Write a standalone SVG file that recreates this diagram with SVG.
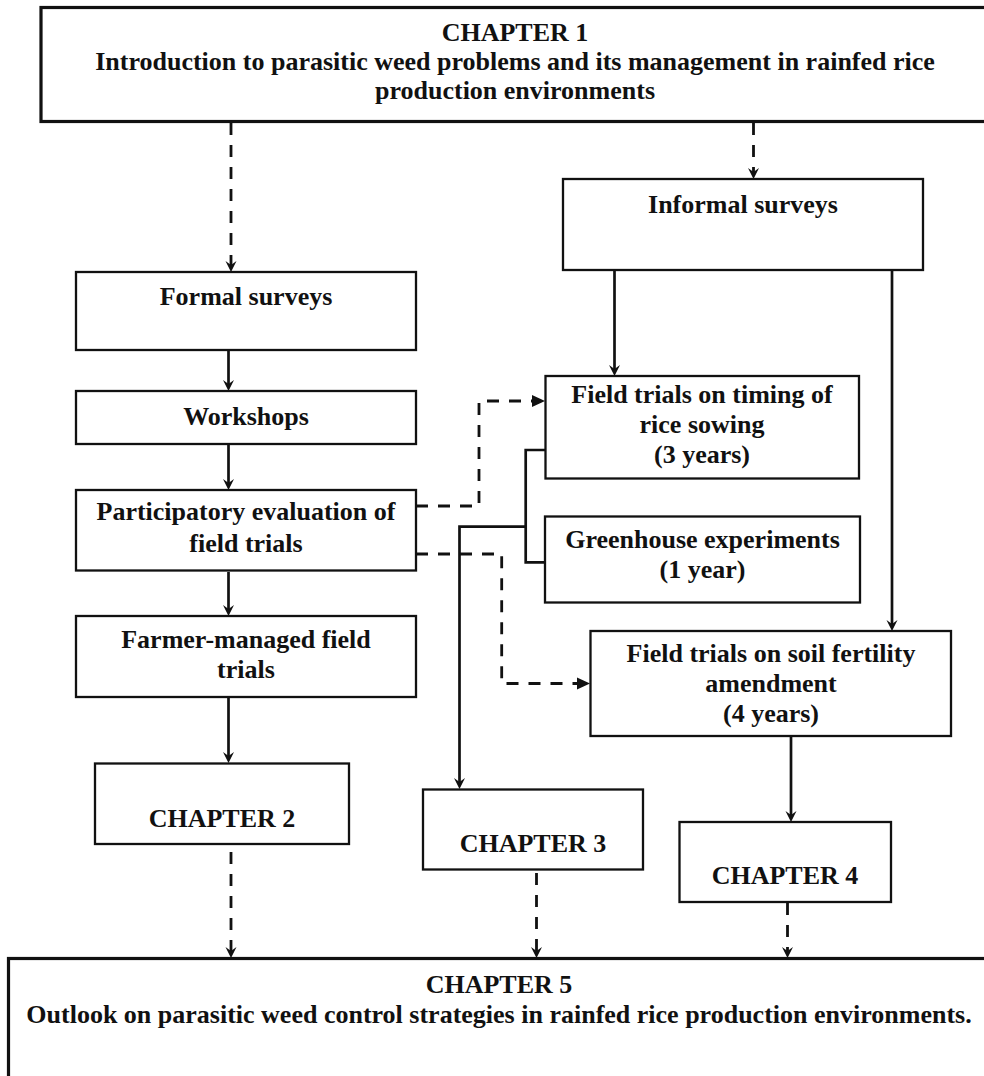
<svg xmlns="http://www.w3.org/2000/svg" width="984" height="1076" viewBox="0 0 984 1076">
<defs>
<style>
.box{fill:#fff;stroke:#111;stroke-width:2.3}
.big{fill:#fff;stroke:#111;stroke-width:3.2}
.t{font-family:"Liberation Serif","Times New Roman",serif;font-weight:bold;font-size:26px;fill:#111;text-anchor:middle}
.solid{fill:none;stroke:#111;stroke-width:2.7}
.dash{fill:none;stroke:#111;stroke-width:2.8;stroke-dasharray:12 10}
</style>
<marker id="barb" markerUnits="userSpaceOnUse" markerWidth="20" markerHeight="20" viewBox="-10 -10 20 20" refX="0" refY="0" orient="auto" overflow="visible">
<path d="M4,0 L-7,-5.5 L-3,0 L-7,5.5 Z" fill="#111"/>
</marker>
<marker id="tri" markerUnits="userSpaceOnUse" markerWidth="20" markerHeight="20" viewBox="-10 -10 20 20" refX="0" refY="0" orient="auto" overflow="visible">
<path d="M4,0 L-9,-6 L-9,6 Z" fill="#111"/>
</marker>
</defs>
<rect width="984" height="1076" fill="#fff"/>

<g id="connectors">
<path class="dash" d="M231,123 V268" marker-end="url(#barb)"/>
<path class="dash" d="M753.5,123 V175" marker-end="url(#barb)"/>
<path class="solid" d="M228.5,351 V387" marker-end="url(#barb)"/>
<path class="solid" d="M228.5,445 V486" marker-end="url(#barb)"/>
<path class="solid" d="M228.5,572 V612" marker-end="url(#barb)"/>
<path class="solid" d="M228.5,698 V759" marker-end="url(#barb)"/>
<path class="solid" d="M614.5,271 V372" marker-end="url(#barb)"/>
<path class="solid" d="M892,271 V627" marker-end="url(#barb)"/>
<path class="solid" d="M791,737 V818" marker-end="url(#barb)"/>
<path class="solid" d="M545.5,450 H525.7 V562.3 H545"/>
<path class="solid" d="M525.7,526.7 H459.5 V785" marker-end="url(#barb)"/>
<path class="dash" d="M416,506 H479 V401 H541" marker-end="url(#tri)"/>
<path class="dash" d="M416,554 H501.7 V683.5 H586" marker-end="url(#tri)"/>
<path class="dash" d="M231,852 V954" marker-end="url(#barb)"/>
<path class="dash" d="M536.5,873 V954" marker-end="url(#barb)"/>
<path class="dash" d="M787.5,903 V954" marker-end="url(#barb)"/>
</g>

<g id="chapter1">
<rect class="big" x="41" y="7.5" width="948" height="114"/>
<text class="t" x="515" y="41">CHAPTER 1</text>
<text class="t" x="515" y="70">Introduction to parasitic weed problems and its management in rainfed rice</text>
<text class="t" x="515" y="99">production environments</text>
</g>

<g id="formal-surveys">
<rect class="box" x="76" y="272" width="340" height="78"/>
<text class="t" x="246" y="305">Formal surveys</text>
</g>

<g id="informal-surveys">
<rect class="box" x="563" y="179" width="360" height="91"/>
<text class="t" x="743" y="213">Informal surveys</text>
</g>

<g id="workshops">
<rect class="box" x="76" y="391" width="340" height="53"/>
<text class="t" x="246" y="425">Workshops</text>
</g>

<g id="participatory-evaluation">
<rect class="box" x="76" y="490" width="340" height="80.5"/>
<text class="t" x="246" y="520">Participatory evaluation of</text>
<text class="t" x="246" y="552">field trials</text>
</g>

<g id="farmer-managed">
<rect class="box" x="76" y="616" width="340" height="81"/>
<text class="t" x="246" y="648">Farmer-managed field</text>
<text class="t" x="246" y="678">trials</text>
</g>

<g id="timing-trials">
<rect class="box" x="545.5" y="376" width="313.5" height="102.5"/>
<text class="t" x="702" y="403">Field trials on timing of</text>
<text class="t" x="702" y="433">rice sowing</text>
<text class="t" x="702" y="463">(3 years)</text>
</g>

<g id="greenhouse">
<rect class="box" x="545" y="516.5" width="315" height="86"/>
<text class="t" x="702.5" y="548">Greenhouse experiments</text>
<text class="t" x="702.5" y="578">(1 year)</text>
</g>

<g id="soil-fertility">
<rect class="box" x="590.5" y="631" width="360.5" height="105"/>
<text class="t" x="771" y="662">Field trials on soil fertility</text>
<text class="t" x="771" y="692">amendment</text>
<text class="t" x="771" y="722">(4 years)</text>
</g>

<g id="chapter2">
<rect class="box" x="95" y="763.5" width="254" height="80.5"/>
<text class="t" x="222" y="827">CHAPTER 2</text>
</g>

<g id="chapter3">
<rect class="box" x="423" y="789.5" width="220" height="80"/>
<text class="t" x="533" y="852">CHAPTER 3</text>
</g>

<g id="chapter4">
<rect class="box" x="679.5" y="822" width="211.5" height="80"/>
<text class="t" x="785" y="884">CHAPTER 4</text>
</g>

<g id="chapter5">
<rect class="big" x="8.5" y="958.5" width="981" height="200"/>
<text class="t" x="499" y="993">CHAPTER 5</text>
<text class="t" x="499" y="1023">Outlook on parasitic weed control strategies in rainfed rice production environments.</text>
</g>
</svg>
